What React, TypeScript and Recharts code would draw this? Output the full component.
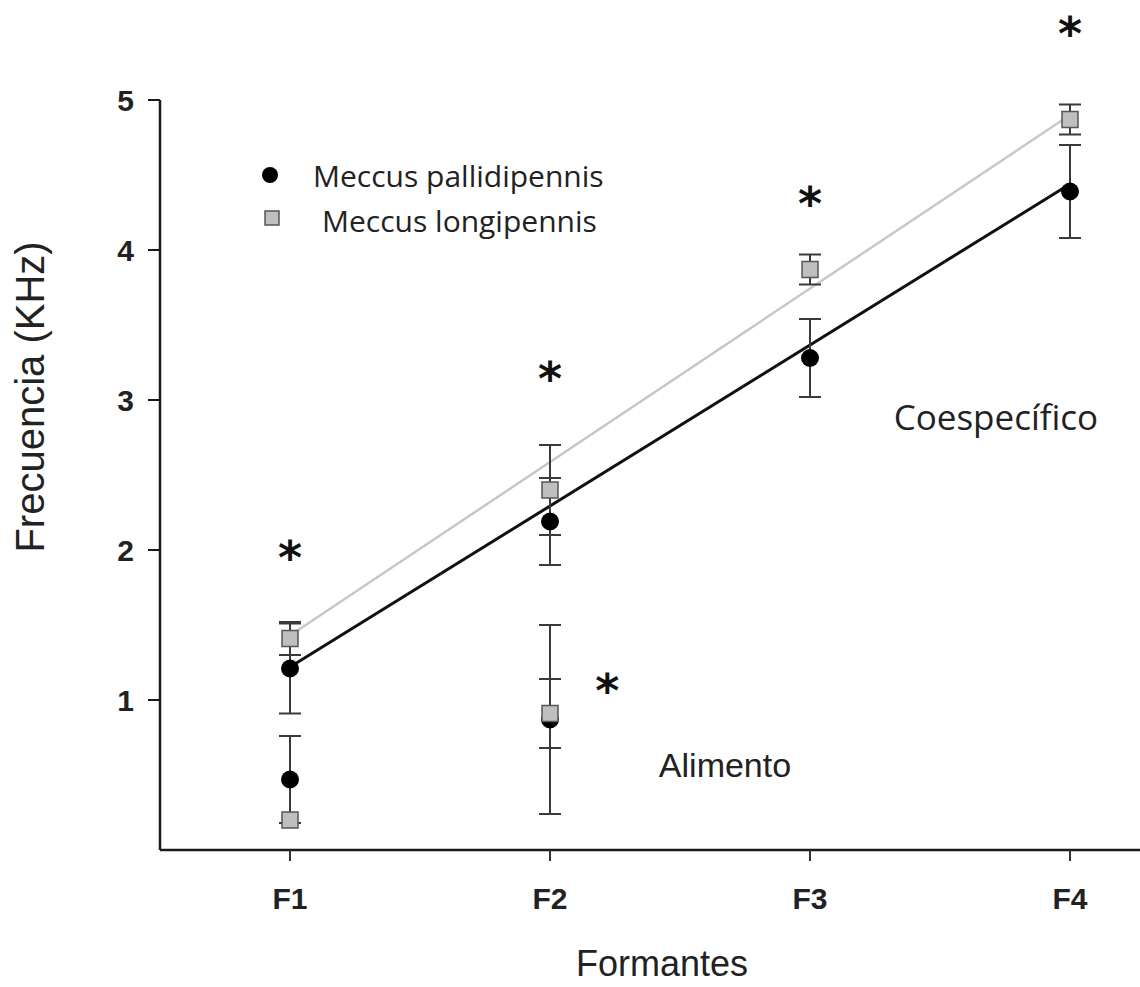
import React from "react";
import {
  ComposedChart,
  Line,
  XAxis,
  YAxis,
  ErrorBar,
  ReferenceDot,
} from "recharts";

// formant categories on the x axis
const formants = ["F1", "F2", "F3", "F4"];
const yTicks = [1, 2, 3, 4, 5];

// Coespecífico (conspecific) means and error
const pallidiCoesp = [1.21, 2.19, 3.28, 4.39];
const pallidiCoespErr = [0.3, 0.29, 0.26, 0.31];
const longiCoesp = [1.41, 2.4, 3.87, 4.87];
const longiCoespErr = [0.11, 0.3, 0.1, 0.1];

// Alimento (food) means and error, only F1 and F2
const pallidiAlim = [0.47, 0.87];
const pallidiAlimErr = [0.29, 0.63];
const longiAlim = [0.2, 0.91];
const longiAlimErr = [0, 0.23];

// regression lines (value at F1 and F4)
const pallidiFit = [1.22, 4.44];
const longiFit = [1.43, 4.9];
const fitX = [1, 4];

// significance marks
const stars = [
  { x: 1, y: 2.03 },
  { x: 2, y: 3.22 },
  { x: 3, y: 4.39 },
  { x: 4, y: 5.52 },
  { x: 2.22, y: 1.14 },
];

const rows = (vals: number[], errs: number[]) =>
  vals.map((v, i) => ({ x: i + 1, y: v, err: errs[i] }));

const fitRows = (vals: number[]) => vals.map((v, i) => ({ x: fitX[i], y: v }));

const CircleDot = (props: any) => {
  const { cx, cy } = props;
  if (cx == null || cy == null) return null;
  return <circle cx={cx} cy={cy} r={9} fill="#000" />;
};

const SquareDot = (props: any) => {
  const { cx, cy } = props;
  if (cx == null || cy == null) return null;
  return (
    <rect x={cx - 8} y={cy - 8} width={16} height={16} fill="#bfbfbf" stroke="#555" strokeWidth={1.5} />
  );
};

const Star = (props: any) => (
  <text
    x={props.cx}
    y={props.cy + 28}
    textAnchor="middle"
    fontFamily="DejaVu Sans"
    fontWeight="bold"
    fontSize={46}
    fill="#111"
  >
    *
  </text>
);

const axisFont = "Liberation Sans, Arial, sans-serif";

const XTick = (props: any) => {
  const { x, y, payload } = props;
  return (
    <text x={x} y={y + 46} textAnchor="middle" fontFamily={axisFont} fontSize={30} fontWeight="bold" fill="#222">
      {formants[payload.value - 1]}
    </text>
  );
};

const YTick = (props: any) => {
  const { x, y, payload } = props;
  return (
    <text x={x - 12} y={y + 11} textAnchor="end" fontFamily={axisFont} fontSize={30} fontWeight="bold" fill="#222">
      {payload.value}
    </text>
  );
};

const App = () => {
  return (
    <div style={{ position: "absolute", left: 0, top: 0, width: 1140, height: 987, background: "#fff" }}>
      <ComposedChart width={1140} height={987} margin={{ top: 100, right: 0, bottom: 0, left: 0 }}>
        <XAxis
          type="number"
          dataKey="x"
          domain={[0.5, 4.2692]}
          ticks={[1, 2, 3, 4]}
          allowDataOverflow
          height={137}
          tick={<XTick />}
          tickSize={11}
          axisLine={{ stroke: "#1a1a1a", strokeWidth: 2.5 }}
          tickLine={{ stroke: "#333", strokeWidth: 2 }}
          label={{
            content: () => (
              <text x={662} y={976} textAnchor="middle" fontFamily={axisFont} fontSize={36} fill="#222">
                Formantes
              </text>
            ),
          }}
        />
        <YAxis
          type="number"
          domain={[0, 5]}
          ticks={yTicks}
          width={160}
          tick={<YTick />}
          tickSize={12}
          axisLine={{ stroke: "#1a1a1a", strokeWidth: 2.5 }}
          tickLine={{ stroke: "#1a1a1a", strokeWidth: 2 }}
          label={{
            content: () => (
              <text
                x={44}
                y={397}
                transform="rotate(-90 44 397)"
                textAnchor="middle"
                fontFamily={axisFont}
                fontSize={40}
                fill="#222"
              >
                Frecuencia (KHz)
              </text>
            ),
          }}
        />

        <Line data={fitRows(longiFit)} dataKey="y" stroke="#c8c8c8" strokeWidth={2.5} dot={false} isAnimationActive={false} />
        <Line data={fitRows(pallidiFit)} dataKey="y" stroke="#111" strokeWidth={3} dot={false} isAnimationActive={false} />

        <Line data={rows(pallidiAlim, pallidiAlimErr)} dataKey="y" stroke="none" dot={<CircleDot />} isAnimationActive={false}>
          <ErrorBar dataKey="err" width={11} stroke="#3a3a3a" strokeWidth={2} direction="y" />
        </Line>
        <Line data={rows(longiAlim, longiAlimErr)} dataKey="y" stroke="none" dot={<SquareDot />} isAnimationActive={false}>
          <ErrorBar dataKey="err" width={11} stroke="#3a3a3a" strokeWidth={2} direction="y" />
        </Line>
        <Line data={rows(pallidiCoesp, pallidiCoespErr)} dataKey="y" stroke="none" dot={<CircleDot />} isAnimationActive={false}>
          <ErrorBar dataKey="err" width={11} stroke="#3a3a3a" strokeWidth={2} direction="y" />
        </Line>
        <Line data={rows(longiCoesp, longiCoespErr)} dataKey="y" stroke="none" dot={<SquareDot />} isAnimationActive={false}>
          <ErrorBar dataKey="err" width={11} stroke="#3a3a3a" strokeWidth={2} direction="y" />
        </Line>

        {stars.map((s, i) => (
          <ReferenceDot key={i} x={s.x} y={s.y} r={0} ifOverflow="visible" shape={<Star />} />
        ))}
        <ReferenceDot
          x={3.715}
          y={2.88}
          r={0}
          shape={(p: any) => (
            <text x={p.cx} y={p.cy + 12} textAnchor="middle" fontFamily="Open Sans" fontSize={35} fill="#222">
              Coespecífico
            </text>
          )}
        />
        <ReferenceDot
          x={2.673}
          y={0.567}
          r={0}
          shape={(p: any) => (
            <text x={p.cx} y={p.cy + 12} textAnchor="middle" fontFamily={axisFont} fontSize={34} fill="#222">
              Alimento
            </text>
          )}
        />
      </ComposedChart>

      <svg
        width={420}
        height={100}
        style={{ position: "absolute", left: 240, top: 145, pointerEvents: "none" }}
      >
        <circle cx={30} cy={30} r={8} fill="#000" />
        <text x={73} y={42} fontFamily="Open Sans" fontSize={30} fill="#222">
          Meccus pallidipennis
        </text>
        <rect x={25} y={66} width={14} height={14} fill="#bfbfbf" stroke="#555" strokeWidth={1.5} />
        <text x={82} y={87} fontFamily="Open Sans" fontSize={30} fill="#222">
          Meccus longipennis
        </text>
      </svg>
    </div>
  );
};

export default App;
